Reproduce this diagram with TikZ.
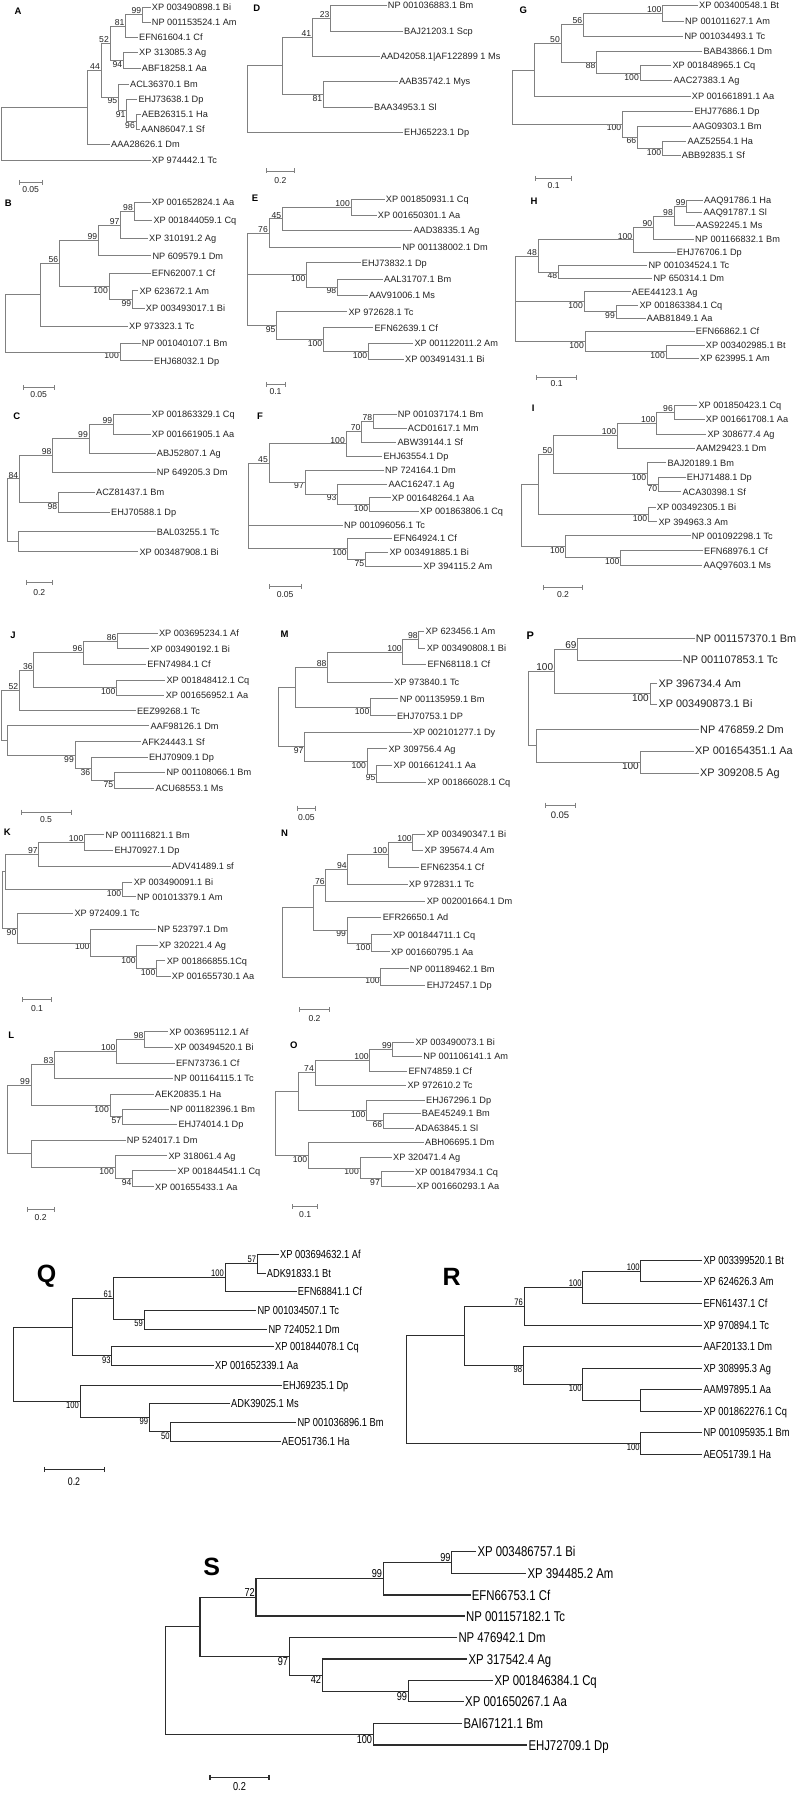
\documentclass[tikz,border=0pt]{standalone}
\usepackage{fontspec}
\setmainfont{Liberation Sans}
\newfontfamily\narrowf[FakeStretch=0.8]{Liberation Sans}
\usetikzlibrary{calc}
\definecolor{lnc}{RGB}{128,128,128}
\definecolor{txc}{RGB}{35,35,35}
\definecolor{lnq}{RGB}{45,45,45}
\newcounter{bsc}
\newcommand\lf[4]{\coordinate (#1) at ({#2-1.2},#3);\node[lab] (#1t) at (#2,#3) {#4};}
\newcommand\nd[4]{\coordinate (#1x) at (#2,0);\coordinate (#1m) at ($(#3)!0.5!(#4)$);\coordinate (#1) at (#1x |- #1m);\draw[br] (#3) -- (#1x |- #3) -- (#1x |- #4) -- (#4);}
\newcommand\midc[2]{\draw[br] (#1x |- #2) -- (#2);}
\newcommand\ba[2]{\stepcounter{bsc}\node[bsl,anchor=south east] (bs\arabic{bsc}) at (#1) {#2};}
\newcommand\bb[2]{\stepcounter{bsc}\node[bsl,anchor=north east] (bs\arabic{bsc}) at (#1) {#2};}
\newcommand\sbar[6]{\draw[sbs] (#2,#4-2.5) -- (#2,#4+2.5) (#2,#4) -- (#3,#4) (#3,#4-2.5) -- (#3,#4+2.5);\node[sbl] (#1) at ({(#2+#3)/2},#6) {#5};}
\tikzset{
 br/.style={draw=lnc, line width=0.9pt},
 sbs/.style={draw=lnc, line width=0.9pt},
 lab/.style={font=\fontsize{9.2}{10}\selectfont, anchor=west, inner sep=0pt, text height=6.6pt, text depth=0pt, text=txc},
 bsl/.style={font=\fontsize{8.6}{9}\selectfont, inner xsep=1pt, inner ysep=0.6pt, text=txc},
 plab/.style={font=\bfseries\fontsize{9.5}{10}\selectfont, inner sep=0pt, text=black},
 sbl/.style={font=\fontsize{8.6}{9}\selectfont, inner sep=0pt, text=txc},
}
\begin{document}
\begin{tikzpicture}[x=1pt,y=-1pt]
\fill[white] (0,0) rectangle (800,1795);
\path[use as bounding box] (0,0) rectangle (800,1795);
% ---------------- A
\node[plab] (pA) at (18,11) {A};
\lf{a1}{151.7}{7.3}{XP 003490898.1 Bi}
\lf{a2}{151.7}{22.3}{NP 001153524.1 Am}
\nd{a99}{142.3}{a1}{a2}\ba{a99}{99}
\lf{a3}{139}{37.7}{EFN61604.1 Cf}
\nd{a81}{125.7}{a99}{a3}\ba{a81}{81}
\lf{a4}{139}{52.7}{XP 313085.3 Ag}
\lf{a5}{141.7}{68.3}{ABF18258.1 Aa}
\nd{a94}{123.3}{a4}{a5}\bb{a94}{94}
\nd{a52}{110}{a81}{a94}\ba{a52}{52}
\lf{a6}{130}{84}{ACL36370.1 Bm}
\lf{a7}{138.3}{99}{EHJ73638.1 Dp}
\lf{a8}{141.7}{114}{AEB26315.1 Ha}
\lf{a9}{141}{129}{AAN86047.1 Sf}
\nd{a96}{136}{a8}{a9}\bb{a96}{96}
\nd{a91}{126.7}{a7}{a96}\bb{a91}{91}
\nd{a95}{118.3}{a6}{a91}\bb{a95}{95}
\nd{a44}{101}{a52}{a95}\ba{a44}{44}
\lf{a10}{111}{144.3}{AAA28626.1 Dm}
\nd{aX}{87.3}{a44}{a10}
\lf{a11}{151.7}{160}{XP 974442.1 Tc}
\nd{aR}{1.7}{aX}{a11}
\sbar{sA}{19}{42.3}{182.3}{0.05}{189.3}
% ---------------- B
\node[plab] (pB) at (8.3,203.3) {B};
\lf{b1}{151.7}{202.7}{XP 001652824.1 Aa}
\lf{b2}{153.3}{220.7}{XP 001844059.1 Cq}
\nd{b98}{134}{b1}{b2}\ba{b98}{98}
\lf{b3}{149}{238.3}{XP 310191.2 Ag}
\nd{b97}{120.7}{b98}{b3}\ba{b97}{97}
\lf{b4}{152.3}{255.7}{NP 609579.1 Dm}
\nd{b99}{98.3}{b97}{b4}\ba{b99}{99}
\lf{b5}{151.7}{273.3}{EFN62007.1 Cf}
\lf{b6}{139.3}{290.7}{XP 623672.1 Am}
\lf{b7}{145.7}{308.3}{XP 003493017.1 Bi}
\nd{b99b}{132.3}{b6}{b7}\bb{b99b}{99}
\nd{b100}{109}{b5}{b99b}\bb{b100}{100}
\nd{b56}{59.3}{b99}{b100}\ba{b56}{56}
\lf{b8}{129}{326}{XP 973323.1 Tc}
\nd{bX}{40}{b56}{b8}
\lf{b9}{141.7}{343.3}{NP 001040107.1 Bm}
\lf{b10}{154}{360.7}{EHJ68032.1 Dp}
\nd{b100b}{120}{b9}{b10}\bb{b100b}{100}
\nd{bR}{5}{bX}{b100b}
\sbar{sB}{23.3}{54}{387.3}{0.05}{395}
% ---------------- C
\node[plab] (pC) at (16.7,416.7) {C};
\lf{c1}{151.7}{414.3}{XP 001863329.1 Cq}
\lf{c2}{151.7}{434}{XP 001661905.1 Aa}
\nd{c99}{113.3}{c1}{c2}\ba{c99}{99}
\lf{c3}{156.7}{453.3}{ABJ52807.1 Ag}
\nd{c99b}{89}{c99}{c3}\ba{c99b}{99}
\lf{c4}{156.7}{472.3}{NP 649205.3 Dm}
\nd{c98}{52.7}{c99b}{c4}\ba{c98}{98}
\lf{c5}{96}{492.3}{ACZ81437.1 Bm}
\lf{c6}{111}{512.3}{EHJ70588.1 Dp}
\nd{c98b}{58.3}{c5}{c6}\bb{c98b}{98}
\nd{c84}{19.3}{c98}{c98b}\ba{c84}{84}
\lf{c7}{156.7}{531.7}{BAL03255.1 Tc}
\lf{c8}{139.3}{551.9}{XP 003487908.1 Bi}
\nd{cX}{18.3}{c7}{c8}
\nd{cR}{7.3}{c84}{cX}
\sbar{sC}{26.1}{52.4}{582.3}{0.2}{592.4}
% ---------------- J
\node[plab] (pJ) at (12.9,635.3) {J};
\lf{j1}{158.9}{633.6}{XP 003695234.1 Af}
\lf{j2}{150.4}{648.8}{XP 003490192.1 Bi}
\nd{j86}{117.6}{j1}{j2}\ba{j86}{86}
\lf{j3}{147.1}{664.4}{EFN74984.1 Cf}
\nd{j96}{83.5}{j86}{j3}\ba{j96}{96}
\lf{j4}{166.3}{680.3}{XP 001848412.1 Cq}
\lf{j5}{165.6}{695.5}{XP 001656952.1 Aa}
\nd{j100}{116.6}{j4}{j5}\bb{j100}{100}
\nd{j36}{33.8}{j96}{j100}\ba{j36}{36}
\lf{j6}{136.9}{710.7}{EEZ99268.1 Tc}
\nd{j52}{19.3}{j36}{j6}\ba{j52}{52}
\lf{j7}{150.4}{725.9}{AAF98126.1 Dm}
\lf{j8}{142}{741.8}{AFK24443.1 Sf}
\lf{j9}{148.8}{757}{EHJ70909.1 Dp}
\lf{j10}{166.3}{772.6}{NP 001108066.1 Bm}
\lf{j11}{155.5}{788.5}{ACU68553.1 Ms}
\nd{j75}{114.3}{j10}{j11}\bb{j75}{75}
\nd{j36b}{91.3}{j9}{j75}\bb{j36b}{36}
\nd{j99}{75}{j8}{j36b}\bb{j99}{99}
\nd{jX}{7.4}{j7}{j99}
\nd{jR}{1.7}{j52}{jX}
\sbar{sJ}{21}{71}{812.1}{0.5}{819.9}
% ---------------- K
\node[plab] (pK) at (7.4,832.4) {K};
\lf{k1}{105.5}{834.8}{NP 001116821.1 Bm}
\lf{k2}{114.3}{850.3}{EHJ70927.1 Dp}
\nd{k100}{84.5}{k1}{k2}\ba{k100}{100}
\lf{k3}{171.7}{866.3}{ADV41489.1 sf}
\nd{k97}{38.8}{k100}{k3}\ba{k97}{97}
\lf{k4}{133.6}{882.1}{XP 003490091.1 Bi}
\lf{k5}{136.9}{896.7}{NP 001013379.1 Am}
\nd{k100b}{122.4}{k4}{k5}\bb{k100b}{100}
\nd{kX}{5.8}{k97}{k100b}
\lf{k6}{74.3}{913.5}{XP 972409.1 Tc}
\lf{k7}{157.2}{929.5}{NP 523797.1 Dm}
\lf{k8}{158.9}{945}{XP 320221.4 Ag}
\lf{k9}{166.6}{960.9}{XP 001866855.1Cq}
\lf{k10}{171.7}{976.1}{XP 001655730.1 Aa}
\nd{k100c}{156.5}{k9}{k10}\bb{k100c}{100}
\nd{k100d}{136.9}{k8}{k100c}\bb{k100d}{100}
\nd{k100e}{90.6}{k7}{k100d}\bb{k100e}{100}
\nd{k90}{17.5}{k6}{k100e}\bb{k90}{90}
\nd{kR}{2.7}{kX}{k90}
\sbar{sK}{22.6}{51.4}{999.7}{0.1}{1008.3}
% ---------------- L
\node[plab] (pL) at (11.2,1035.2) {L};
\lf{l1}{169.1}{1031.9}{XP 003695112.1 Af}
\lf{l2}{174.1}{1047.1}{XP 003494520.1 Bi}
\nd{l98}{144.7}{l1}{l2}\ba{l98}{98}
\lf{l3}{175.8}{1063.3}{EFN73736.1 Cf}
\nd{l100}{116.6}{l98}{l3}\ba{l100}{100}
\lf{l4}{174}{1078.3}{NP 001164115.1 Tc}
\nd{l83}{54.5}{l100}{l4}\ba{l83}{83}
\lf{l5}{155}{1094}{AEK20835.1 Ha}
\lf{l6}{170}{1109.3}{NP 001182396.1 Bm}
\lf{l7}{178.3}{1124.3}{EHJ74014.1 Dp}
\nd{l57}{122.3}{l6}{l7}\bb{l57}{57}
\nd{l100b}{110}{l5}{l57}\bb{l100b}{100}
\nd{l99}{31}{l83}{l100b}\ba{l99}{99}
\lf{l8}{126.7}{1140}{NP 524017.1 Dm}
\lf{l9}{168.3}{1155.7}{XP 318061.4 Ag}
\lf{l10}{177.3}{1170.7}{XP 001844541.1 Cq}
\lf{l11}{155}{1186.7}{XP 001655433.1 Aa}
\nd{l94}{132.7}{l10}{l11}\bb{l94}{94}
\nd{l100c}{115}{l9}{l94}\bb{l100c}{100}
\nd{lX}{31}{l8}{l100c}
\nd{lR}{7.3}{l99}{lX}
\sbar{sL}{27.3}{54}{1209.3}{0.2}{1217.3}
% ---------------- D
\node[plab] (pD) at (256.7,8.3) {D};
\lf{d1}{387.7}{5.7}{NP 001036883.1 Bm}
\lf{d2}{404}{31.7}{BAJ21203.1 Scp}
\nd{d23}{330.7}{d1}{d2}\ba{d23}{23}
\lf{d3}{380.7}{56}{AAD42058.1|AF122899 1 Ms}
\nd{d41}{312.3}{d23}{d3}\ba{d41}{41}
\lf{d4}{399}{81.7}{AAB35742.1 Mys}
\lf{d5}{374}{107.3}{BAA34953.1 Sl}
\nd{d81}{323.3}{d4}{d5}\bb{d81}{81}
\nd{dX}{282.3}{d41}{d81}
\lf{d6}{404}{132.3}{EHJ65223.1 Dp}
\nd{dR}{247.3}{dX}{d6}
\sbar{sD}{266.7}{294}{171}{0.2}{181}
% ---------------- E
\node[plab] (pE) at (255,198.3) {E};
\lf{e1}{385.7}{199.3}{XP 001850931.1 Cq}
\lf{e2}{377.7}{215}{XP 001650301.1 Aa}
\nd{e100}{351}{e1}{e2}\ba{e100}{100}
\lf{e3}{413.3}{230.7}{AAD38335.1 Ag}
\nd{e45}{282.3}{e100}{e3}\ba{e45}{45}
\lf{e4}{402.3}{247.3}{NP 001138002.1 Dm}
\nd{e76}{269}{e45}{e4}\ba{e76}{76}
\lf{e5}{361.7}{262.7}{EHJ73832.1 Dp}
\lf{e6}{384}{279}{AAL31707.1 Bm}
\lf{e7}{369}{295}{AAV91006.1 Ms}
\nd{e98}{337.3}{e6}{e7}\bb{e98}{98}
\nd{e100b}{306.7}{e5}{e98}\bb{e100b}{100}
\lf{e8}{348.3}{311.7}{XP 972628.1 Tc}
\lf{e9}{374.3}{327.7}{EFN62639.1 Cf}
\lf{e10}{414.3}{343.3}{XP 001122011.2 Am}
\lf{e11}{405}{359.3}{XP 003491431.1 Bi}
\nd{e100c}{368.3}{e10}{e11}\bb{e100c}{100}
\nd{e100d}{323.3}{e9}{e100c}\bb{e100d}{100}
\nd{e95}{276.7}{e8}{e100d}\bb{e95}{95}
\nd{eR}{247.3}{e76}{e95}\midc{eR}{e100b}
\sbar{sE}{266}{285}{384.3}{0.1}{391.7}
% ---------------- F
\node[plab] (pF) at (260,416.7) {F};
\lf{f1}{397.7}{414.3}{NP 001037174.1 Bm}
\lf{f2}{407.7}{428.3}{ACD01617.1 Mm}
\nd{f78}{373.3}{f1}{f2}\ba{f78}{78}
\lf{f3}{397.3}{442.3}{ABW39144.1 Sf}
\nd{f70}{361.7}{f78}{f3}\ba{f70}{70}
\lf{f4}{383.3}{456}{EHJ63554.1 Dp}
\nd{f100}{346}{f70}{f4}\ba{f100}{100}
\lf{f5}{385}{470}{NP 724164.1 Dm}
\lf{f6}{388.3}{484}{AAC16247.1 Ag}
\lf{f7}{391.7}{497.7}{XP 001648264.1 Aa}
\lf{f8}{420}{511}{XP 001863806.1 Cq}
\nd{f100b}{369.3}{f7}{f8}\bb{f100b}{100}
\nd{f93}{337.7}{f6}{f100b}\bb{f93}{93}
\nd{f97}{305}{f5}{f93}\bb{f97}{97}
\nd{f45}{269}{f100}{f97}\ba{f45}{45}
\lf{f9}{344}{525}{NP 001096056.1 Tc}
\lf{f10}{393.3}{538.3}{EFN64924.1 Cf}
\lf{f11}{389.4}{552.5}{XP 003491885.1 Bi}
\lf{f12}{423.2}{566.1}{XP 394115.2 Am}
\nd{f75}{365.4}{f11}{f12}\bb{f75}{75}
\nd{f100c}{347.9}{f10}{f75}\bb{f100c}{100}
\nd{fR}{248.3}{f45}{f100c}\midc{fR}{f9}
\sbar{sF}{269.1}{301.2}{586.7}{0.05}{594.1}
% ---------------- M
\node[plab] (pM) at (284.6,634.6) {M};
\lf{m1}{425.5}{631.3}{XP 623456.1 Am}
\lf{m2}{426.6}{648.2}{XP 003490808.1 Bi}
\nd{m98}{418.8}{m1}{m2}\ba{m98}{98}
\lf{m3}{427.3}{664.4}{EFN68118.1 Cf}
\nd{m100}{402.9}{m98}{m3}\ba{m100}{100}
\lf{m4}{394.1}{682}{XP 973840.1 Tc}
\nd{m88}{327.6}{m100}{m4}\ba{m88}{88}
\lf{m5}{399.6}{698.9}{NP 001135959.1 Bm}
\lf{m6}{396.8}{715.8}{EHJ70753.1 DP}
\nd{m100b}{370.5}{m5}{m6}\bb{m100b}{100}
\nd{mX}{295.4}{m88}{m100b}
\lf{m7}{412.8}{732}{XP 002101277.1 Dy}
\lf{m8}{388.4}{748.9}{XP 309756.4 Ag}
\lf{m9}{393.5}{765.5}{XP 001661241.1 Aa}
\lf{m10}{427.3}{782.4}{XP 001866028.1 Cq}
\nd{m95}{376.6}{m9}{m10}\bb{m95}{95}
\nd{m100c}{367.1}{m8}{m95}\bb{m100c}{100}
\nd{m97}{304.6}{m7}{m100c}\bb{m97}{97}
\nd{mR}{278.5}{mX}{m97}
\sbar{sM}{297.1}{315.7}{808}{0.05}{817.2}
% ---------------- N
\node[plab] (pN) at (284.6,833.4) {N};
\lf{n1}{426.6}{834.1}{XP 003490347.1 Bi}
\lf{n2}{424.5}{850.3}{XP 395674.4 Am}
\nd{n100}{412.8}{n1}{n2}\ba{n100}{100}
\lf{n3}{420.5}{867.3}{EFN62354.1 Cf}
\nd{n100b}{388.4}{n100}{n3}\ba{n100b}{100}
\lf{n4}{408.7}{884.1}{XP 972831.1 Tc}
\nd{n94}{347.9}{n100b}{n4}\ba{n94}{94}
\lf{n5}{426.6}{901.1}{XP 002001664.1 Dm}
\nd{n76}{325.9}{n94}{n5}\ba{n76}{76}
\lf{n6}{382.6}{917}{EFR26650.1 Ad}
\lf{n7}{392.8}{934.8}{XP 001844711.1 Cq}
\lf{n8}{390.8}{951.8}{XP 001660795.1 Aa}
\nd{n100c}{371.5}{n7}{n8}\bb{n100c}{100}
\nd{n99}{347.1}{n6}{n100c}\bb{n99}{99}
\nd{nX}{313.4}{n76}{n99}
\lf{n9}{409.7}{968.7}{NP 001189462.1 Bm}
\lf{n10}{426.6}{985.5}{EHJ72457.1 Dp}
\nd{n100d}{380.9}{n9}{n10}\bb{n100d}{100}
\nd{nR}{282.5}{nX}{n100d}
\sbar{sN}{299.8}{329.2}{1009.9}{0.2}{1018.4}
% ---------------- O
\node[plab] (pO) at (293.7,1045.4) {O};
\lf{o1}{415.4}{1042}{XP 003490073.1 Bi}
\lf{o2}{423.2}{1056.5}{NP 001106141.1 Am}
\nd{o99}{392.8}{o1}{o2}\ba{o99}{99}
\lf{o3}{408.3}{1071}{EFN74859.1 Cf}
\nd{o100}{369.8}{o99}{o3}\ba{o100}{100}
\lf{o4}{407.3}{1085}{XP 972610.2 Tc}
\nd{o74}{315}{o100}{o4}\ba{o74}{74}
\lf{o5}{426}{1100}{EHJ67296.1 Dp}
\lf{o6}{421.7}{1113.3}{BAE45249.1 Bm}
\lf{o7}{415}{1128.3}{ADA63845.1 Sl}
\nd{o66}{383.3}{o6}{o7}\bb{o66}{66}
\nd{o100b}{366.7}{o5}{o66}\bb{o100b}{100}
\nd{oX}{298.3}{o74}{o100b}
\lf{o8}{425}{1142.3}{ABH06695.1 Dm}
\lf{o9}{393}{1157.3}{XP 320471.4 Ag}
\lf{o10}{415}{1171.7}{XP 001847934.1 Cq}
\lf{o11}{416.7}{1186}{XP 001660293.1 Aa}
\nd{o97}{381}{o10}{o11}\bb{o97}{97}
\nd{o100c}{360}{o9}{o97}\bb{o100c}{100}
\nd{o100d}{308.3}{o8}{o100c}\bb{o100d}{100}
\nd{oR}{275}{oX}{o100d}
\sbar{sO}{292.7}{317.7}{1206.7}{0.1}{1215}
% ---------------- G
\node[plab] (pG) at (523.3,10) {G};
\lf{g1}{699}{5.7}{XP 003400548.1 Bt}
\lf{g2}{685}{21}{NP 001011627.1 Am}
\nd{g100}{662.7}{g1}{g2}\ba{g100}{100}
\lf{g3}{684.3}{36}{NP 001034493.1 Tc}
\nd{g56}{583.3}{g100}{g3}\ba{g56}{56}
\lf{g4}{703.3}{51}{BAB43866.1 Dm}
\lf{g5}{672.3}{65.7}{XP 001848965.1 Cq}
\lf{g6}{673.3}{80.7}{AAC27383.1 Ag}
\nd{g100b}{640}{g5}{g6}\bb{g100b}{100}
\nd{g88}{596.7}{g4}{g100b}\bb{g88}{88}
\nd{g50}{561}{g56}{g88}\ba{g50}{50}
\lf{g7}{691.7}{96.7}{XP 001661891.1 Aa}
\nd{gX}{534}{g50}{g7}
\lf{g8}{694.3}{111}{EHJ77686.1 Dp}
\lf{g9}{692.3}{126}{AAG09303.1 Bm}
\lf{g10}{687.3}{141}{AAZ52554.1 Ha}
\lf{g11}{681.7}{155.7}{ABB92835.1 Sf}
\nd{g100c}{662.3}{g10}{g11}\bb{g100c}{100}
\nd{g66}{637.3}{g9}{g100c}\bb{g66}{66}
\nd{g100d}{622.3}{g8}{g66}\bb{g100d}{100}
\nd{gR}{512.3}{gX}{g100d}
\sbar{sG}{535.7}{571.7}{178.3}{0.1}{186}
% ---------------- H
\node[plab] (pH) at (534,201.7) {H};
\lf{h1}{704}{200.7}{AAQ91786.1 Ha}
\lf{h2}{703.3}{212.3}{AAQ91787.1 Sl}
\nd{h99}{686.7}{h1}{h2}\ba{h99}{99}
\lf{h3}{695.7}{225.7}{AAS92245.1 Ms}
\nd{h98}{674}{h99}{h3}\ba{h98}{98}
\lf{h4}{695}{239}{NP 001166832.1 Bm}
\nd{h90}{653.3}{h98}{h4}\ba{h90}{90}
\lf{h5}{676.7}{252.3}{EHJ76706.1 Dp}
\nd{h100}{633.3}{h90}{h5}\ba{h100}{100}
\lf{h6}{648.3}{265.7}{NP 001034524.1 Tc}
\lf{h7}{653.3}{278.3}{NP 650314.1 Dm}
\nd{h48b}{558.3}{h6}{h7}\bb{h48b}{48}
\nd{h48}{538}{h100}{h48b}\ba{h48}{48}
\lf{h8}{631.7}{291.7}{AEE44123.1 Ag}
\lf{h9}{639.3}{305}{XP 001863384.1 Cq}
\lf{h10}{646.7}{318.3}{AAB81849.1 Aa}
\nd{h99b}{616}{h9}{h10}\bb{h99b}{99}
\nd{h100b}{584}{h8}{h99b}\bb{h100b}{100}
\lf{h11}{695.7}{331}{EFN66862.1 Cf}
\lf{h12}{705.7}{345}{XP 003402985.1 Bt}
\lf{h13}{700}{358.3}{XP 623995.1 Am}
\nd{h100c}{666}{h12}{h13}\bb{h100c}{100}
\nd{h100d}{585}{h11}{h100c}\bb{h100d}{100}
\nd{hR}{515}{h48}{h100d}\midc{hR}{h100b}
\sbar{sH}{536.7}{576.7}{377.3}{0.1}{383.3}
% ---------------- I
\node[plab] (pI) at (533.3,408.3) {I};
\lf{i1}{698.3}{405}{XP 001850423.1 Cq}
\lf{i2}{705.7}{419}{XP 001661708.1 Aa}
\nd{i96}{674}{i1}{i2}\ba{i96}{96}
\lf{i3}{707.3}{434}{XP 308677.4 Ag}
\nd{i100}{656.7}{i96}{i3}\ba{i100}{100}
\lf{i4}{696}{448.3}{AAM29423.1 Dm}
\nd{i100b}{617.3}{i100}{i4}\ba{i100b}{100}
\lf{i5}{667.3}{462.7}{BAJ20189.1 Bm}
\lf{i6}{686.7}{477.3}{EHJ71488.1 Dp}
\lf{i7}{682.3}{491.7}{ACA30398.1 Sf}
\nd{i70}{658.3}{i6}{i7}\bb{i70}{70}
\nd{i100c}{647.3}{i5}{i70}\bb{i100c}{100}
\nd{i50}{553.3}{i100b}{i100c}\ba{i50}{50}
\lf{i8}{656.7}{507.3}{XP 003492305.1 Bi}
\lf{i9}{658.3}{521.7}{XP 394963.3 Am}
\nd{i100d}{648.3}{i8}{i9}\bb{i100d}{100}
\nd{iX}{538.3}{i50}{i100d}
\lf{i10}{691.7}{535.7}{NP 001092298.1 Tc}
\lf{i11}{704}{550.7}{EFN68976.1 Cf}
\lf{i12}{703.3}{565}{AAQ97603.1 Ms}
\nd{i100e}{620.7}{i11}{i12}\bb{i100e}{100}
\nd{i100f}{565.7}{i10}{i100e}\bb{i100f}{100}
\nd{iR}{521}{iX}{i100f}
\sbar{sI}{543.3}{582.7}{587.3}{0.2}{595}
% ---------------- P
\begin{scope}[lab/.style={font=\fontsize{10.9}{12}\selectfont, anchor=west, inner sep=0pt, text height=7.8pt, text depth=0pt, text=txc},
 bsl/.style={font=\fontsize{10}{11}\selectfont, inner xsep=1pt, inner ysep=0.6pt, text=txc},
 plab/.style={font=\bfseries\fontsize{11}{12}\selectfont, inner sep=0pt, text=black},
 sbl/.style={font=\fontsize{9.5}{10}\selectfont, inner sep=0pt, text=txc}]
\node[plab] (pP) at (530.4,635.7) {P};
\lf{p1}{695.7}{638.3}{NP 001157370.1 Bm}
\lf{p2}{682.7}{660}{NP 001107853.1 Tc}
\nd{p69}{577.7}{p1}{p2}\ba{p69}{69}
\lf{p3}{658.3}{683.3}{XP 396734.4 Am}
\lf{p4}{658.3}{704}{XP 003490873.1 Bi}
\nd{p100}{650}{p3}{p4}\bb{p100}{100}
\nd{p100b}{554.3}{p69}{p100}\ba{p100b}{100}
\lf{p5}{700}{729.3}{NP 476859.2 Dm}
\lf{p6}{695}{751}{XP 001654351.1 Aa}
\lf{p7}{700}{773}{XP 309208.5 Ag}
\nd{p100c}{640}{p6}{p7}\bb{p100c}{100}
\nd{pX}{536.7}{p5}{p100c}
\nd{pR}{528}{p100b}{pX}
\sbar{sP}{545}{575}{805}{0.05}{815}
\end{scope}
% ---------------- Q R
\begin{scope}[br/.style={draw=lnq, line width=1pt}, sbs/.style={draw=lnq, line width=1pt},
 lab/.style={font=\narrowf\fontsize{11.6}{13}\selectfont, anchor=west, inner sep=0pt, text height=8.3pt, text depth=0pt, text=black},
 bsl/.style={font=\narrowf\fontsize{9.5}{11}\selectfont, inner xsep=1pt, inner ysep=0.6pt, text=black},
 plab/.style={font=\bfseries\fontsize{25}{27}\selectfont, inner sep=0pt, text=black},
 sbl/.style={font=\narrowf\fontsize{11}{12}\selectfont, inner sep=0pt, text=black}]
% Q
\node[plab] (pQ) at (46.7,1276.7) {Q};
\lf{q1}{280}{1254.3}{XP 003694632.1 Af}
\lf{q2}{266.7}{1273.3}{ADK91833.1 Bt}
\nd{q57}{257.3}{q1}{q2}\ba{q57}{57}
\lf{q3}{297.7}{1291.7}{EFN68841.1 Cf}
\nd{q100}{225}{q57}{q3}\ba{q100}{100}
\lf{q4}{257.3}{1310}{NP 001034507.1 Tc}
\lf{q5}{268.3}{1329}{NP 724052.1 Dm}
\nd{q59}{144}{q4}{q5}\bb{q59}{59}
\nd{q61}{113.3}{q100}{q59}\ba{q61}{61}
\lf{q6}{275}{1346.7}{XP 001844078.1 Cq}
\lf{q7}{215}{1365.2}{XP 001652339.1 Aa}
\nd{q93}{111.7}{q6}{q7}\bb{q93}{93}
\nd{qX}{72.7}{q61}{q93}
\lf{q8}{282.7}{1385}{EHJ69235.1 Dp}
\lf{q9}{231}{1403.3}{ADK39025.1 Ms}
\lf{q10}{297.3}{1422.3}{NP 001036896.1 Bm}
\lf{q11}{281.7}{1441}{AEO51736.1 Ha}
\nd{q50}{170.7}{q10}{q11}\bb{q50}{50}
\nd{q99}{149.3}{q9}{q50}\bb{q99}{99}
\nd{q100b}{80}{q8}{q99}\bb{q100b}{100}
\nd{qR}{13.3}{qX}{q100b}
\sbar{sQ}{44}{104}{1469.3}{0.2}{1482}
% R
\node[plab] (pR) at (451.7,1276.7) {R};
\lf{r1}{703.3}{1260.7}{XP 003399520.1 Bt}
\lf{r2}{703.3}{1281.7}{XP 624626.3 Am}
\nd{r100}{640.7}{r1}{r2}\ba{r100}{100}
\lf{r3}{703.3}{1303.3}{EFN61437.1 Cf}
\nd{r100b}{582.7}{r100}{r3}\ba{r100b}{100}
\lf{r4}{703.3}{1325.7}{XP 970894.1 Tc}
\nd{r76}{524}{r100b}{r4}\ba{r76}{76}
\lf{r5}{703.3}{1346.7}{AAF20133.1 Dm}
\lf{r6}{703.3}{1368}{XP 308995.3 Ag}
\lf{r7}{703.3}{1389.5}{AAM97895.1 Aa}
\lf{r8}{703.3}{1411}{XP 001862276.1 Cq}
\nd{rAC}{640.7}{r7}{r8}
\nd{r100c}{582.7}{r6}{rAC}\bb{r100c}{100}
\nd{r98}{523.3}{r5}{r100c}\bb{r98}{98}
\nd{rX}{464}{r76}{r98}
\lf{r9}{703.3}{1432.5}{NP 001095935.1 Bm}
\lf{r10}{703.3}{1454}{AEO51739.1 Ha}
\nd{r100d}{640.7}{r9}{r10}\bb{r100d}{100}
\nd{rR}{406.7}{rX}{r100d}
\end{scope}
% ---------------- S
\begin{scope}[br/.style={draw=lnq, line width=1.1pt}, sbs/.style={draw=lnq, line width=1.1pt},
 lab/.style={font=\narrowf\fontsize{14.2}{16}\selectfont, anchor=west, inner sep=0pt, text height=10.2pt, text depth=0pt, text=black},
 bsl/.style={font=\narrowf\fontsize{11.5}{13}\selectfont, inner xsep=1pt, inner ysep=0.6pt, text=black},
 plab/.style={font=\bfseries\fontsize{25}{27}\selectfont, inner sep=0pt, text=black},
 sbl/.style={font=\narrowf\fontsize{11.5}{13}\selectfont, inner sep=0pt, text=black}]
\node[plab] (pS) at (211.7,1566.7) {S};
\lf{s1}{477.3}{1551.7}{XP 003486757.1 Bi}
\lf{s2}{527.3}{1573.3}{XP 394485.2 Am}
\nd{s99}{451.7}{s1}{s2}\ba{s99}{99}
\lf{s3}{471.7}{1595}{EFN66753.1 Cf}
\nd{s99b}{383.3}{s99}{s3}\ba{s99b}{99}
\lf{s4}{466}{1616}{NP 001157182.1 Tc}
\nd{s72}{256}{s99b}{s4}\ba{s72}{72}
\lf{s5}{458.3}{1637.7}{NP 476942.1 Dm}
\lf{s6}{468.3}{1659}{XP 317542.4 Ag}
\lf{s7}{494.3}{1680.7}{XP 001846384.1 Cq}
\lf{s8}{465}{1701.7}{XP 001650267.1 Aa}
\nd{s99c}{408.3}{s7}{s8}\bb{s99c}{99}
\nd{s42}{322.3}{s6}{s99c}\bb{s42}{42}
\nd{s97}{289.3}{s5}{s42}\bb{s97}{97}
\nd{sX}{200}{s72}{s97}
\lf{s9}{463.3}{1723.3}{BAI67121.1 Bm}
\lf{s10}{528.3}{1745}{EHJ72709.1 Dp}
\nd{s100}{373.3}{s9}{s10}\bb{s100}{100}
\nd{sR}{165.7}{sX}{s100}
\sbar{sS}{210}{269}{1777.3}{0.2}{1787}
\end{scope}
\end{tikzpicture}
\end{document}
